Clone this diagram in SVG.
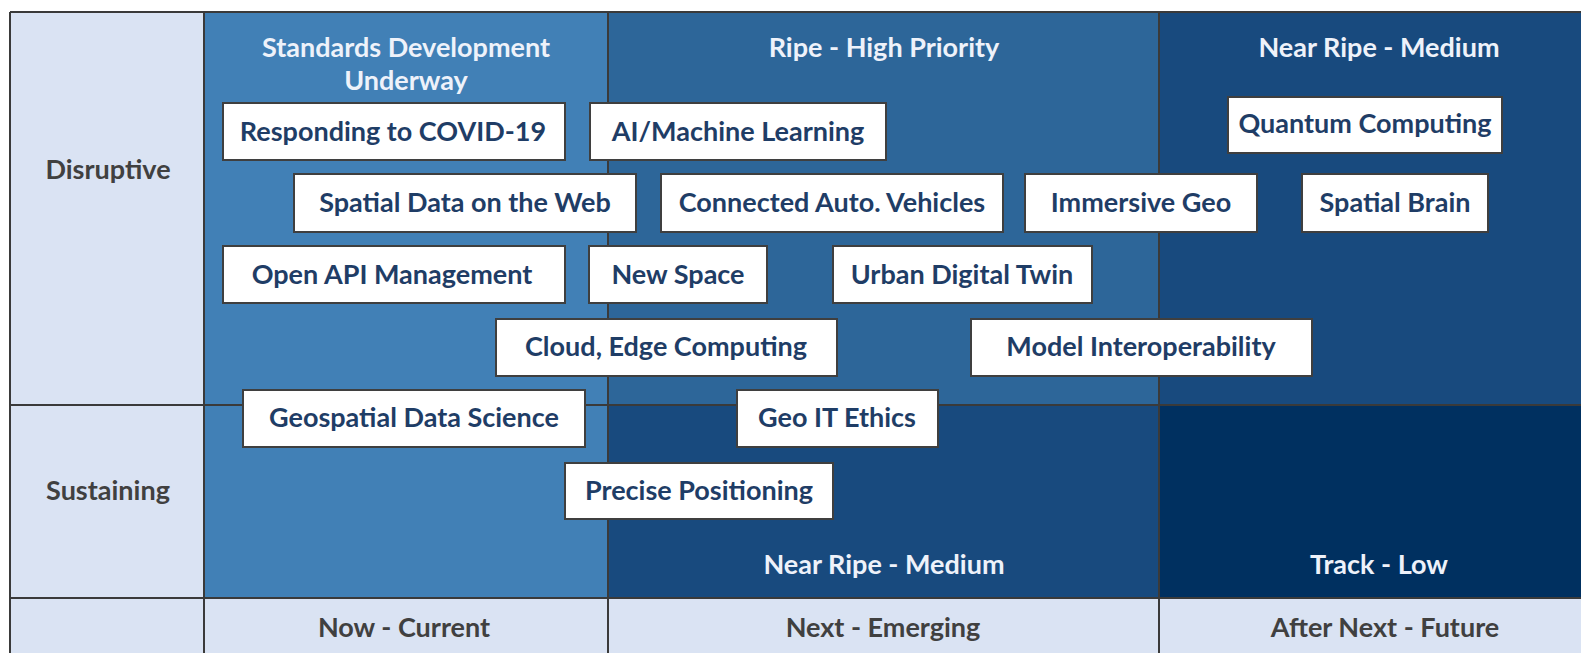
<svg xmlns="http://www.w3.org/2000/svg" width="1581" height="653" viewBox="0 0 1581 653">
<style>
.hdr{font-family:Lato,"Open Sans","Liberation Sans",sans-serif;font-weight:700;font-size:27px;fill:#eef2fa;text-anchor:middle}
.lbl{font-family:Lato,"Open Sans","Liberation Sans",sans-serif;font-weight:700;font-size:27px;fill:#404040;text-anchor:middle}
.box rect{fill:#ffffff;stroke:#3f3f3f;stroke-width:2}
.box text{font-family:Lato,"Open Sans","Liberation Sans",sans-serif;font-weight:700;font-size:27px;fill:#1f3d66;text-anchor:middle}
.grid{stroke:#3a3a3a;stroke-width:2;fill:none}
</style>
<rect width="1581" height="653" fill="#ffffff"/>
<g id="grid">
<rect x="10" y="12" width="194" height="641" fill="#dae3f3"/>
<rect x="204" y="598" width="1377" height="55" fill="#dae3f3"/>
<rect x="204" y="12" width="404" height="586" fill="#4180b6"/>
<rect x="608" y="12" width="551" height="393" fill="#2d6699"/>
<rect x="608" y="405" width="551" height="193" fill="#184a7e"/>
<rect x="1159" y="12" width="422" height="393" fill="#184a7e"/>
<rect x="1159" y="405" width="422" height="193" fill="#003060"/>
<path class="grid" d="M10,12H1581 M10,12V653 M204,12V653 M608,12V653 M1159,12V653 M10,405H1581 M10,598H1581"/>
</g>
<g id="headers">
<text class="hdr" x="406" y="57">Standards Development</text>
<text class="hdr" x="406" y="90">Underway</text>
<text class="hdr" x="884" y="57">Ripe - High Priority</text>
<text class="hdr" x="1379" y="57">Near Ripe - Medium</text>
<text class="hdr" x="884" y="574">Near Ripe - Medium</text>
<text class="hdr" x="1379" y="574">Track - Low</text>
<text class="lbl" x="108" y="179">Disruptive</text>
<text class="lbl" x="108" y="500">Sustaining</text>
<text class="lbl" x="404" y="637">Now - Current</text>
<text class="lbl" x="883" y="637">Next - Emerging</text>
<text class="lbl" x="1385" y="637">After Next - Future</text>
</g>
<g id="connectors"></g>
<g id="n1" class="box"><rect x="223" y="103" width="342" height="57"/><text x="393" y="141">Responding to COVID-19</text></g>
<g id="n2" class="box"><rect x="590" y="103" width="296" height="57"/><text x="738" y="141">AI/Machine Learning</text></g>
<g id="n3" class="box"><rect x="1228" y="97" width="274" height="56"/><text x="1365" y="133">Quantum Computing</text></g>
<g id="n4" class="box"><rect x="294" y="174" width="342" height="58"/><text x="465" y="212">Spatial Data on the Web</text></g>
<g id="n5" class="box"><rect x="661" y="174" width="342" height="58"/><text x="832" y="212">Connected Auto. Vehicles</text></g>
<g id="n6" class="box"><rect x="1025" y="174" width="232" height="58"/><text x="1141" y="212">Immersive Geo</text></g>
<g id="n7" class="box"><rect x="1302" y="174" width="186" height="58"/><text x="1395" y="212">Spatial Brain</text></g>
<g id="n8" class="box"><rect x="223" y="246" width="342" height="57"/><text x="392" y="284">Open API Management</text></g>
<g id="n9" class="box"><rect x="589" y="246" width="178" height="57"/><text x="678" y="284">New Space</text></g>
<g id="n10" class="box"><rect x="833" y="246" width="259" height="57"/><text x="962" y="284">Urban Digital Twin</text></g>
<g id="n11" class="box"><rect x="496" y="319" width="341" height="57"/><text x="666" y="356">Cloud, Edge Computing</text></g>
<g id="n12" class="box"><rect x="971" y="319" width="341" height="57"/><text x="1141" y="356">Model Interoperability</text></g>
<g id="n13" class="box"><rect x="243" y="390" width="342" height="57"/><text x="414" y="427">Geospatial Data Science</text></g>
<g id="n14" class="box"><rect x="737" y="390" width="201" height="57"/><text x="837" y="427">Geo IT Ethics</text></g>
<g id="n15" class="box"><rect x="565" y="463" width="268" height="56"/><text x="699" y="500">Precise Positioning</text></g>
</svg>
